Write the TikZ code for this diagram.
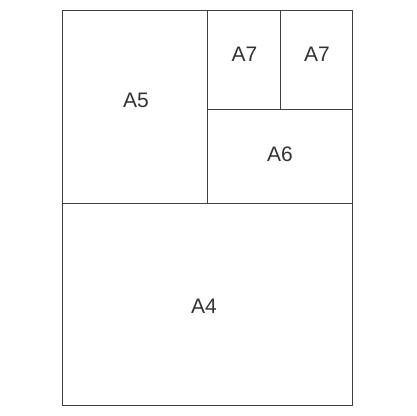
\documentclass[tikz,border=0pt]{standalone}
\usepackage{fontspec}
\setmainfont{Liberation Sans}
\begin{document}
\begin{tikzpicture}[x=1pt,y=-1pt,
  edge/.style={draw=black!75,line width=1pt},
  lbl/.style={inner sep=0pt,text=black!80,font=\fontsize{21}{24}\selectfont}]
\useasboundingbox (0,0) rectangle (416,416);
\fill[white] (0,0) rectangle (416,416);
\coordinate (tl) at (62.3,10.3);
\coordinate (br) at (352.3,405);
\coordinate (m1) at (62.3,203);
\coordinate (m2) at (352.3,203);
\coordinate (v1t) at (207.3,10.3);
\coordinate (v1b) at (207.3,203);
\coordinate (h2l) at (207.3,109);
\coordinate (h2r) at (352.3,109);
\coordinate (v2t) at (280.3,10.3);
\coordinate (v2b) at (280.3,109);
\draw[edge] (tl) rectangle (br);
\draw[edge] (m1) -- (m2);
\draw[edge] (v1t) -- (v1b);
\draw[edge] (h2l) -- (h2r);
\draw[edge] (v2t) -- (v2b);
\node[lbl] (a5) at (136,100) {A5};
\node[lbl] (a7a) at (244.5,54.5) {A7};
\node[lbl] (a7b) at (317,54.5) {A7};
\node[lbl] (a6) at (280,154.5) {A6};
\node[lbl] (a4) at (204,306) {A4};
\end{tikzpicture}
\end{document}
